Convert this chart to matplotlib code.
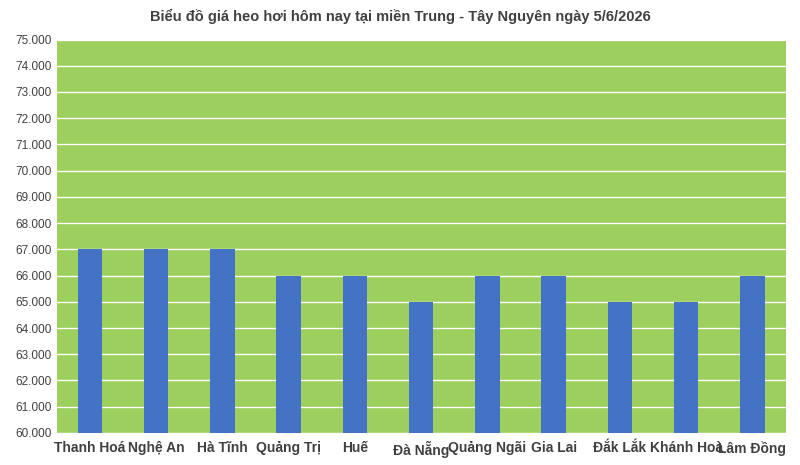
import matplotlib.pyplot as plt
import numpy as np
from matplotlib.ticker import FuncFormatter

provinces = ['Thanh Hoá', 'Nghệ An', 'Hà Tĩnh', 'Quảng Trị', 'Huế', 'Đà Nẵng',
             'Quảng Ngãi', 'Gia Lai', 'Đắk Lắk', 'Khánh Hoà', 'Lâm Đồng']
prices = [67000, 67000, 67000, 66000, 66000, 65000, 66000, 66000, 65000, 65000, 66000]

plt.rcParams['font.family'] = ['Liberation Sans', 'DejaVu Sans']

fig = plt.figure(figsize=(8, 4.65), dpi=100)
ax = fig.add_axes([0.071, 0.069, 0.911, 0.846])
ax.set_facecolor('#9CCF5E')
x = np.arange(len(provinces))
ax.bar(x, prices, width=0.37, color='#4472C4', zorder=3)
ax.set_ylim(60000, 75000)
ax.set_yticks(np.arange(60000, 75001, 1000))
ax.yaxis.set_major_formatter(FuncFormatter(lambda v, p: f'{v/1000:.3f}'))
ax.grid(axis='y', color='white', linewidth=1, zorder=1)
ax.set_xlim(-0.5, len(provinces) - 0.5)
ax.set_xticks(x)
ax.set_xticklabels(provinces, fontsize=10, fontweight='bold', color='#404040')
ax.tick_params(axis='y', labelsize=8.5, labelcolor='#404040', length=0)
ax.tick_params(axis='x', length=0, pad=6)
for s in ax.spines.values():
    s.set_visible(False)
fig.text(0.5, 0.965, 'Biểu đồ giá heo hơi hôm nay tại miền Trung - Tây Nguyên ngày 5/6/2026',
         ha='center', va='center', fontsize=10.5, fontweight='bold', color='#404040')
fig.savefig('out.png')
